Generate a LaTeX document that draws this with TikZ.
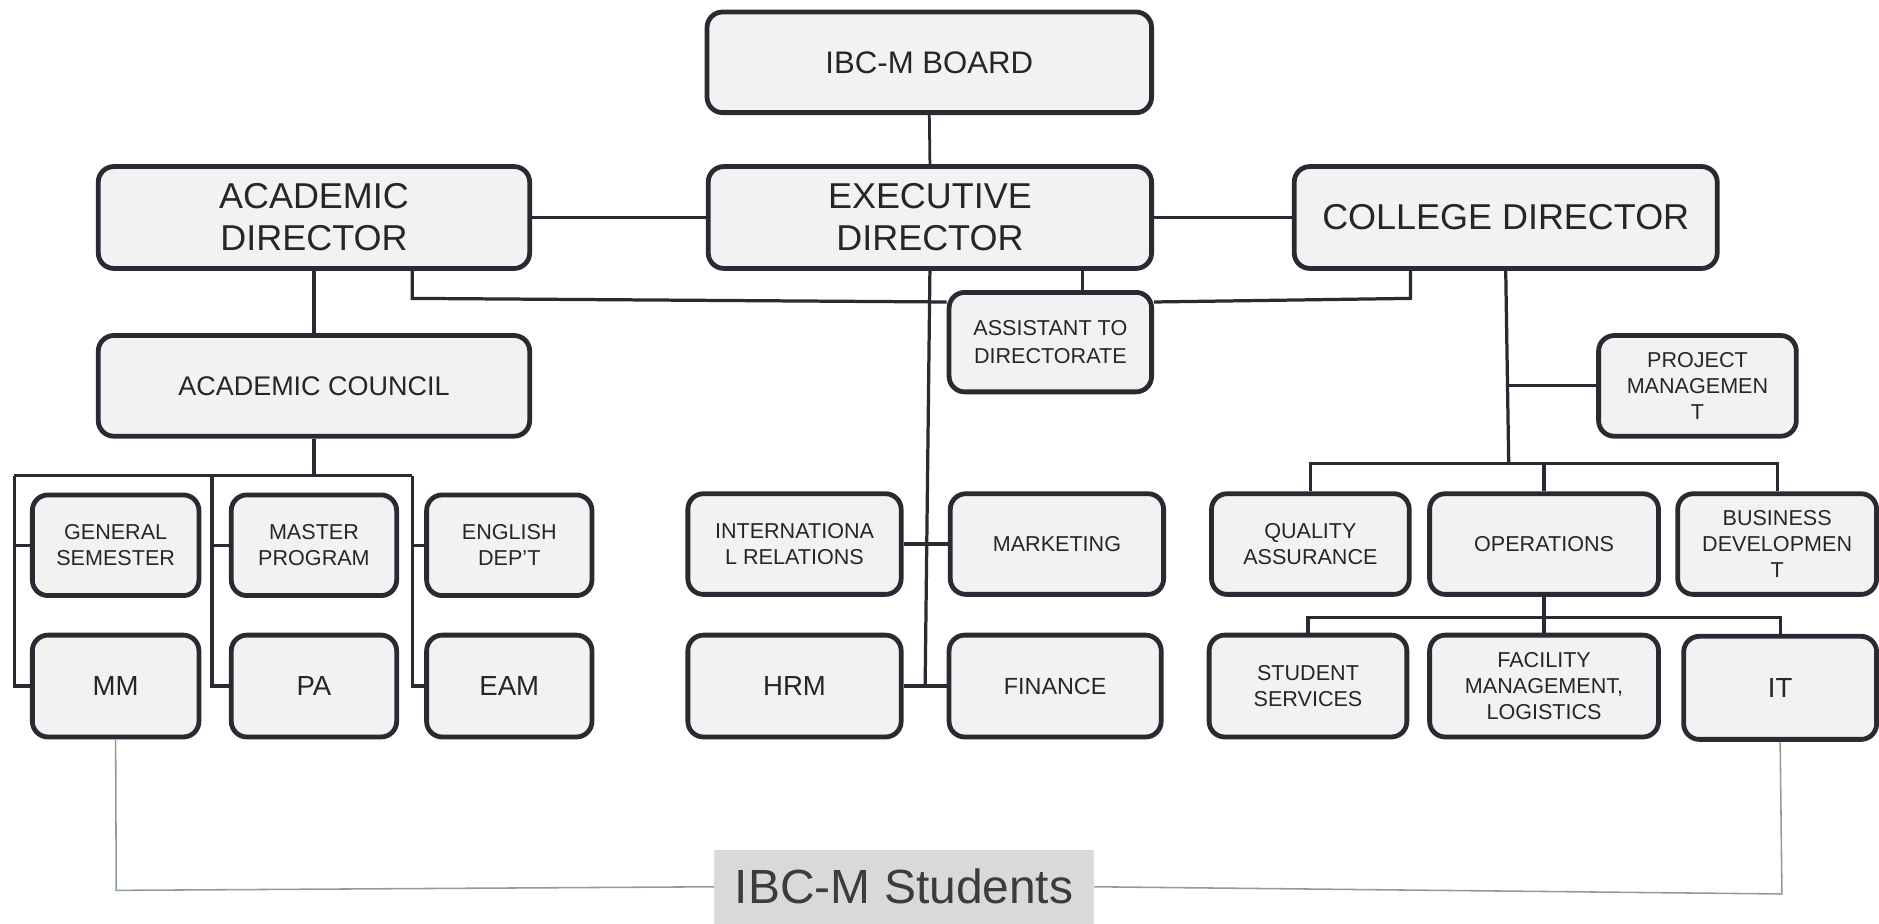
\documentclass[tikz,border=0pt]{standalone}
\usepackage{fontspec}
\setmainfont{Liberation Sans}
\usetikzlibrary{calc}
\definecolor{bordc}{HTML}{2A2A33}
\definecolor{boxfill}{HTML}{F2F2F2}
\definecolor{txtc}{HTML}{262626}
\definecolor{studline}{HTML}{8D9E93}
\definecolor{studfill}{HTML}{D9D9D9}
\newcommand\fsS{\fontsize{18}{22}\selectfont}
\newcommand\fsM{\fontsize{23}{27}\selectfont}
\newcommand\fsL{\fontsize{30}{35}\selectfont}
\begin{document}
\begin{tikzpicture}[x=1pt,y=-1pt,
  box/.style={draw=bordc, line width=4pt, fill=boxfill, rounded corners=13pt,
    align=center, inner sep=0pt, text=txtc},
  conn/.style={draw=bordc, line width=2.7pt},
  stud/.style={draw=studline, line width=1.3pt}]
\useasboundingbox (0,0) rectangle (1568,771);
% top level
\node[box, minimum width=371pt, minimum height=84pt, font=\fontsize{26}{30}\selectfont] (board) at (775.5,52) {IBC-M BOARD};
\node[box, minimum width=360pt, minimum height=85pt, font=\fsL] (acad) at (262,181.5) {ACADEMIC\\DIRECTOR};
\node[box, minimum width=370pt, minimum height=85pt, font=\fsL] (exec) at (776,181.5) {EXECUTIVE\\DIRECTOR};
\node[box, minimum width=353pt, minimum height=85pt, font=\fsL] (college) at (1256.5,181.5) {COLLEGE DIRECTOR};
\node[box, minimum width=360pt, minimum height=84pt, font=\fontsize{22.5}{27}\selectfont] (council) at (262,322) {ACADEMIC COUNCIL};
\node[box, minimum width=169pt, minimum height=83pt, font=\fontsize{18}{23}\selectfont] (assist) at (876.5,285.5) {ASSISTANT TO\\DIRECTORATE};
\node[box, minimum width=165pt, minimum height=84pt, font=\fsS] (project) at (1416.5,322) {PROJECT\\MANAGEMEN\\T};
% row 3
\node[box, minimum width=139pt, minimum height=84pt, font=\fsS] (gen) at (96.5,455) {GENERAL\\SEMESTER};
\node[box, minimum width=138pt, minimum height=84pt, font=\fsS] (master) at (262,455) {MASTER\\PROGRAM};
\node[box, minimum width=138pt, minimum height=84pt, font=\fsS] (english) at (425,455) {ENGLISH\\DEP’T};
\node[box, minimum width=178pt, minimum height=84pt, font=\fsS] (intl) at (663,454) {INTERNATIONA\\L RELATIONS};
\node[box, minimum width=178pt, minimum height=84pt, font=\fsS] (marketing) at (882,454) {MARKETING};
\node[box, minimum width=165pt, minimum height=84pt, font=\fsS] (quality) at (1093.5,454) {QUALITY\\ASSURANCE};
\node[box, minimum width=191pt, minimum height=84pt, font=\fsS] (operations) at (1288.5,454) {OPERATIONS};
\node[box, minimum width=166pt, minimum height=84pt, font=\fsS] (business) at (1483,454) {BUSINESS\\DEVELOPMEN\\T};
% row 4
\node[box, minimum width=139pt, minimum height=85pt, font=\fsM] (mm) at (96.5,572.5) {MM};
\node[box, minimum width=138pt, minimum height=85pt, font=\fsM] (pa) at (262,572.5) {PA};
\node[box, minimum width=138pt, minimum height=85pt, font=\fsM] (eam) at (425,572.5) {EAM};
\node[box, minimum width=178pt, minimum height=85pt, font=\fsM] (hrm) at (663,572.5) {HRM};
\node[box, minimum width=177pt, minimum height=85pt, font=\fontsize{19.5}{23}\selectfont] (finance) at (880.5,572.5) {FINANCE};
\node[box, minimum width=165pt, minimum height=85pt, font=\fsS] (stuserv) at (1091.5,572.5) {STUDENT\\SERVICES};
\node[box, minimum width=191pt, minimum height=85pt, font=\fsS] (facility) at (1288.5,572.5) {FACILITY\\MANAGEMENT,\\LOGISTICS};
\node[box, minimum width=161pt, minimum height=86pt, font=\fsM] (it) at (1485.5,574) {IT};
% students
\node[fill=studfill, minimum width=317pt, minimum height=62pt, inner sep=0pt, text=txtc!90!white, font=\fontsize{40}{46}\selectfont] (students) at (754.5,740) {IBC-M Students};
% coordinates
\coordinate (al) at (12,397);
\coordinate (am) at (177,397);
\coordinate (ar) at (344,397);
\coordinate (spineend) at (772,573);
\coordinate (cbus) at (1259,387);
\coordinate (obus) at (1288,515);
\coordinate (sl) at (97,743);
\coordinate (sr) at (1487,746);
% connectors
\draw[conn, line width=2.3pt] (board.south) -- (exec.north);
\draw[conn] (acad.east) -- (exec.west);
\draw[conn] (exec.east) -- (college.west);
\draw[conn] (acad.south) -- (council.north);
\draw[conn] ([xshift=82pt]acad.south) -- ++(0,23) -- ([yshift=33.5pt]assist.west);
\draw[conn] ([xshift=-79.5pt]college.south) -- ++(0,23) -- ([yshift=33.5pt]assist.east);
\draw[conn] ([xshift=26.5pt]assist.north) -- ([xshift=26.5pt]assist.north |- exec.south);
\draw[conn] (exec.south) -- (spineend);
\draw[conn] (intl.east) -- (marketing.west);
\draw[conn] (hrm.east) -- (finance.west);
\draw[conn] (council.south) -- (council.south |- al);
\draw[conn] (al) -- (ar);
\draw[conn] (al) |- (gen.west);
\draw[conn] (al) |- (mm.west);
\draw[conn] (am) |- (master.west);
\draw[conn] (am) |- (pa.west);
\draw[conn] (ar) |- (english.west);
\draw[conn] (ar) |- (eam.west);
\draw[conn] (college.south) -- (cbus);
\draw[conn] (project.west) -- ++(-74,0);
\draw[conn] (quality.north) |- (cbus) -| (business.north);
\draw[conn] (operations.north) -- (operations.north |- cbus);
\draw[conn] (operations.south) -- (facility.north);
\draw[conn] (stuserv.north) |- (obus) -| (it.north);
\draw[stud] (mm.south) -- (sl) -- (students.west);
\draw[stud] (it.south) -- (sr) -- (students.east);
\end{tikzpicture}
\end{document}
